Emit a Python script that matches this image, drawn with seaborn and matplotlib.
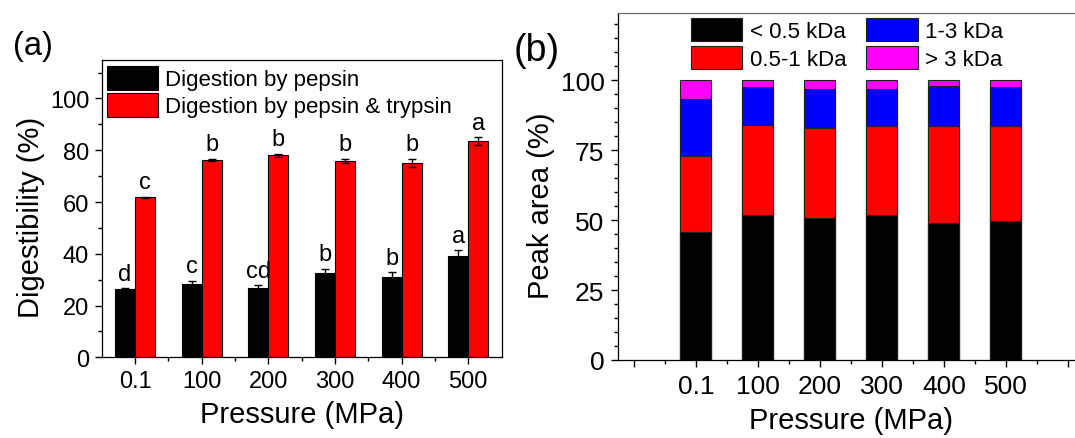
import numpy as np
import pandas as pd
import matplotlib
matplotlib.use("Agg")
import matplotlib.pyplot as plt
from matplotlib.ticker import MultipleLocator
import seaborn as sns

# ---------------- data ----------------
pressures = ["0.1", "100", "200", "300", "400", "500"]

series_a = ["Digestion by pepsin", "Digestion by pepsin & trypsin"]
pepsin = [26.3, 28.2, 26.9, 32.4, 31.2, 39.1]
pepsin_err = [0.4, 1.4, 0.9, 1.8, 1.8, 2.3]
pepsin_trypsin = [61.8, 76.3, 78.0, 75.9, 75.1, 83.5]
pepsin_trypsin_err = [0.2, 0.5, 0.7, 0.8, 1.7, 1.5]
pepsin_letters = ["d", "c", "cd", "b", "b", "a"]
pepsin_trypsin_letters = ["c", "b", "b", "b", "b", "a"]

fractions = ["< 0.5 kDa", "0.5-1 kDa", "1-3 kDa", "> 3 kDa"]
below_05 = [45.7, 51.9, 50.8, 51.9, 49.1, 49.7]
kda_05_1 = [27.1, 32.2, 32.0, 31.6, 34.4, 33.8]
kda_1_3 = [20.4, 13.3, 14.2, 13.2, 14.4, 13.9]
above_3 = [6.8, 2.6, 3.0, 3.3, 2.1, 2.6]

# ---------------- style ----------------
sns.set_theme(style="ticks")
plt.rcParams["font.family"] = ["Liberation Sans", "DejaVu Sans"]
plt.rcParams["axes.linewidth"] = 0.9
plt.rcParams["axes.edgecolor"] = "black"
plt.rcParams["text.color"] = "black"
plt.rcParams["axes.labelcolor"] = "black"
plt.rcParams["xtick.color"] = "black"
plt.rcParams["ytick.color"] = "black"

fig = plt.figure(figsize=(10.75, 4.39), dpi=100)
fig.patch.set_facecolor("white")
ax1 = fig.add_axes([0.0946, 0.1838, 0.372, 0.678])
ax2 = fig.add_axes([0.5752, 0.1777, 0.4326, 0.7904])

# ---------------- panel (a) ----------------
df_a = pd.DataFrame({
    "Pressure": pressures * 2,
    "Series": [series_a[0]] * len(pressures) + [series_a[1]] * len(pressures),
    "Value": pepsin + pepsin_trypsin,
})
sns.barplot(data=df_a, x="Pressure", y="Value", hue="Series", order=pressures,
            hue_order=series_a, palette=["black", "red"], saturation=1,
            width=0.6, gap=0, errorbar=None, edgecolor="black", linewidth=0.8,
            ax=ax1)

for container, errs, letters in zip(ax1.containers,
                                    [pepsin_err, pepsin_trypsin_err],
                                    [pepsin_letters, pepsin_trypsin_letters]):
    for bar, e, letter in zip(container.patches, errs, letters):
        x = bar.get_x() + bar.get_width() / 2
        h = bar.get_height()
        ax1.errorbar(x, h, yerr=e, fmt="none", ecolor="black",
                     elinewidth=1.0, capsize=3, capthick=1.0)
        ax1.text(x, h + e + 1.3, letter, ha="center", va="bottom",
                 fontsize=17, color="black")

ax1.set_xlim(-0.5, 5.5)
ax1.set_ylim(0, 115)
ax1.set_yticks(range(0, 101, 20))
ax1.yaxis.set_minor_locator(MultipleLocator(10))
ax1.set_xticks(np.arange(0.5, 5.0, 1.0), minor=True)
ax1.tick_params(axis="both", which="major", direction="out", length=5,
                width=1, labelsize=17, pad=4, colors="black")
ax1.tick_params(axis="both", which="minor", direction="out", length=3, width=1)
ax1.set_xlabel("Pressure (MPa)", fontsize=21, labelpad=6)
ax1.set_ylabel("Digestibility (%)", fontsize=21)
ax1.yaxis.set_label_coords(-0.142, 0.473)
for s in ax1.spines.values():
    s.set_visible(True)
    s.set_color("black")

ax1.legend(loc="upper left", bbox_to_anchor=(0.013, 0.98), frameon=False,
           fontsize=16, handlelength=2.3, handleheight=1.3,
           labelspacing=0.12, handletextpad=0.33, borderpad=0,
           borderaxespad=0)

# ---------------- panel (b) ----------------
cum1 = np.array(below_05)
cum2 = cum1 + np.array(kda_05_1)
cum3 = cum2 + np.array(kda_1_3)
cum4 = cum3 + np.array(above_3)
layers = [(fractions[3], cum4, "#ff00ff"), (fractions[2], cum3, "#0000ff"),
          (fractions[1], cum2, "#ff0000"), (fractions[0], cum1, "#000000")]
for label, vals, color in layers:
    sns.barplot(x=pressures, y=vals, order=pressures, color=color,
                saturation=1, width=0.5, errorbar=None, edgecolor="#202020",
                linewidth=0.8, label=label, ax=ax2)

handles, labels = ax2.get_legend_handles_labels()
lookup = dict(zip(labels, handles))
ax2.legend([lookup[f] for f in fractions], fractions, ncol=2,
           loc="upper left", bbox_to_anchor=(0.156, 0.986), frameon=False,
           fontsize=16, handlelength=2.3, handleheight=1.2,
           labelspacing=0.18, columnspacing=0.9, handletextpad=0.35,
           borderpad=0, borderaxespad=0)

ax2.set_xlim(-1.25, 6.25)
ax2.set_ylim(0, 124)
ax2.set_xticks(range(-1, 7))
ax2.set_xticklabels([""] + pressures + [""])
ax2.set_xticks(np.arange(-0.5, 6.5, 1.0), minor=True)
ax2.set_yticks(range(0, 101, 25))
ax2.yaxis.set_minor_locator(MultipleLocator(5))
ax2.tick_params(axis="both", which="major", direction="out", length=5,
                width=1, labelsize=19, pad=5, colors="black")
ax2.tick_params(axis="both", which="minor", direction="out", length=3, width=1)
ax2.set_xlabel("Pressure (MPa)", fontsize=21, labelpad=6)
ax2.set_ylabel("Peak area (%)", fontsize=21)
ax2.yaxis.set_label_coords(-0.136, 0.447)
for s in ax2.spines.values():
    s.set_visible(True)
    s.set_color("black")
ax2.spines["top"].set_color("#707070")

# ---------------- panel labels ----------------
fig.text(0.0118, 0.895, "(a)", fontsize=23.5, ha="left", va="center")
fig.text(0.4775, 0.884, "(b)", fontsize=27, ha="left", va="center")

fig.savefig("out.png", dpi=100, facecolor="white")
